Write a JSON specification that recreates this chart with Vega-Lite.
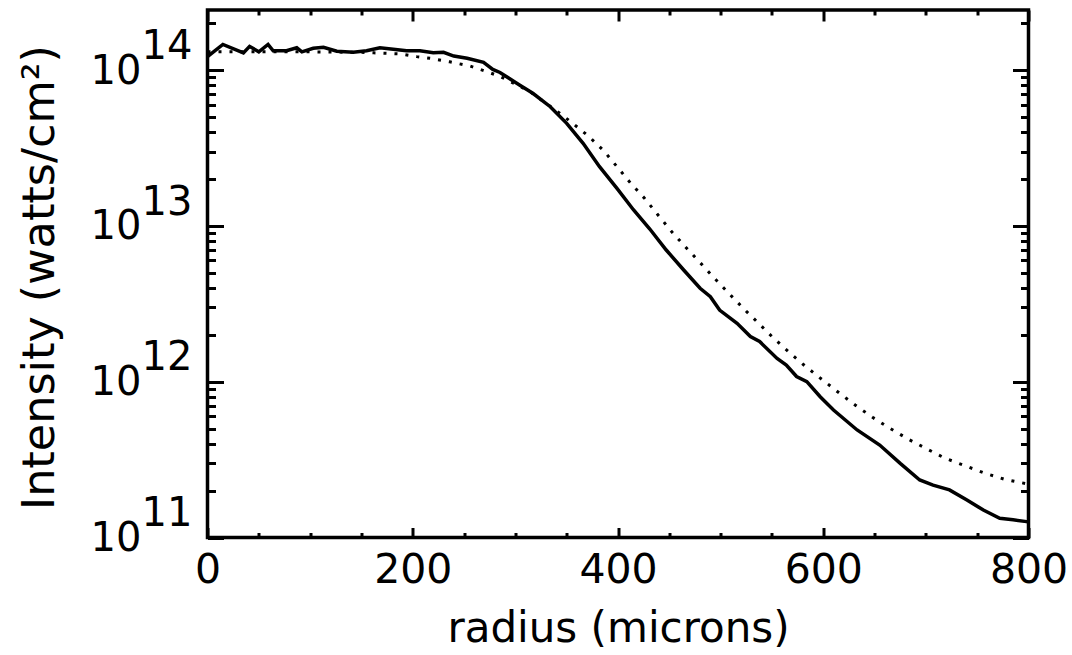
{
  "$schema": "https://vega.github.io/schema/vega-lite/v6.json",
  "width": 821,
  "height": 527.5,
  "autosize": "none",
  "padding": {"left": 207.5, "top": 10, "right": 43.5, "bottom": 117.5},
  "background": "white",
  "config": {
    "view": {"stroke": "black", "strokeWidth": 3.5},
    "axis": {
      "grid": false,
      "domain": false,
      "tickColor": "black",
      "tickWidth": 3,
      "labelColor": "black",
      "titleColor": "black",
      "labelFont": "DejaVu Sans",
      "titleFont": "DejaVu Sans",
      "titleFontWeight": "normal",
      "labelFlush": false,
      "labelOverlap": false,
      "labelBound": false
    }
  },
  "datasets": {
    "measured": [
      {"r": 0, "I": 1.22e14}, {"r": 15, "I": 1.46e14}, {"r": 35, "I": 1.29e14}, {"r": 41, "I": 1.42e14},
      {"r": 50, "I": 1.31e14}, {"r": 59, "I": 1.46e14}, {"r": 64, "I": 1.33e14}, {"r": 77, "I": 1.33e14},
      {"r": 87, "I": 1.39e14}, {"r": 92, "I": 1.31e14}, {"r": 103, "I": 1.38e14}, {"r": 113, "I": 1.40e14},
      {"r": 126, "I": 1.32e14}, {"r": 142, "I": 1.30e14}, {"r": 155, "I": 1.33e14}, {"r": 168, "I": 1.39e14},
      {"r": 181, "I": 1.36e14}, {"r": 194, "I": 1.33e14}, {"r": 207, "I": 1.33e14}, {"r": 220, "I": 1.29e14},
      {"r": 230, "I": 1.30e14}, {"r": 240, "I": 1.23e14}, {"r": 253, "I": 1.19e14}, {"r": 269, "I": 1.12e14},
      {"r": 278, "I": 1.01e14}, {"r": 285, "I": 9.65e13}, {"r": 304, "I": 8.03e13}, {"r": 317, "I": 7.10e13},
      {"r": 334, "I": 5.82e13}, {"r": 350, "I": 4.55e13}, {"r": 366, "I": 3.39e13}, {"r": 382, "I": 2.40e13},
      {"r": 399, "I": 1.74e13}, {"r": 415, "I": 1.27e13}, {"r": 431, "I": 9.55e12}, {"r": 447, "I": 7.00e12},
      {"r": 464, "I": 5.21e12}, {"r": 480, "I": 3.98e12}, {"r": 490, "I": 3.51e12}, {"r": 499, "I": 2.88e12},
      {"r": 516, "I": 2.37e12}, {"r": 529, "I": 1.95e12}, {"r": 538, "I": 1.81e12}, {"r": 555, "I": 1.41e12},
      {"r": 564, "I": 1.28e12}, {"r": 574, "I": 1.08e12}, {"r": 584, "I": 1.00e12}, {"r": 597, "I": 8.01e11},
      {"r": 610, "I": 6.58e11}, {"r": 633, "I": 4.90e11}, {"r": 655, "I": 3.92e11}, {"r": 675, "I": 2.99e11},
      {"r": 694, "I": 2.34e11}, {"r": 707, "I": 2.17e11}, {"r": 723, "I": 2.02e11}, {"r": 740, "I": 1.74e11},
      {"r": 756, "I": 1.50e11}, {"r": 772, "I": 1.33e11}, {"r": 785, "I": 1.30e11}, {"r": 800, "I": 1.26e11}
    ],
    "model": [
      {"r": 0, "I": 1.31e14}, {"r": 50, "I": 1.31e14}, {"r": 100, "I": 1.31e14}, {"r": 150, "I": 1.30e14},
      {"r": 162, "I": 1.29e14}, {"r": 175, "I": 1.28e14}, {"r": 188, "I": 1.27e14}, {"r": 204, "I": 1.22e14},
      {"r": 217, "I": 1.19e14}, {"r": 236, "I": 1.13e14}, {"r": 256, "I": 1.06e14}, {"r": 275, "I": 9.62e13},
      {"r": 285, "I": 9.10e13}, {"r": 305, "I": 7.83e13}, {"r": 314, "I": 7.27e13}, {"r": 339, "I": 5.55e13},
      {"r": 355, "I": 4.60e13}, {"r": 371, "I": 3.78e13}, {"r": 386, "I": 3.04e13}, {"r": 399, "I": 2.40e13},
      {"r": 412, "I": 1.89e13}, {"r": 426, "I": 1.50e13}, {"r": 439, "I": 1.175e13}, {"r": 452, "I": 9.23e12},
      {"r": 466, "I": 7.29e12}, {"r": 480, "I": 5.81e12}, {"r": 494, "I": 4.61e12}, {"r": 508, "I": 3.69e12},
      {"r": 522, "I": 2.96e12}, {"r": 537, "I": 2.37e12}, {"r": 551, "I": 1.92e12}, {"r": 567, "I": 1.54e12},
      {"r": 583, "I": 1.25e12}, {"r": 599, "I": 1.03e12}, {"r": 615, "I": 8.52e11}, {"r": 631, "I": 7.09e11},
      {"r": 648, "I": 5.91e11}, {"r": 665, "I": 5.02e11}, {"r": 683, "I": 4.27e11}, {"r": 701, "I": 3.70e11},
      {"r": 719, "I": 3.22e11}, {"r": 738, "I": 2.89e11}, {"r": 758, "I": 2.58e11}, {"r": 777, "I": 2.36e11},
      {"r": 800, "I": 2.20e11}
    ]
  },
  "resolve": {"axis": {"x": "independent", "y": "independent"}},
  "layer": [
    {
      "data": {"name": "measured"},
      "mark": {"type": "line", "color": "black", "strokeWidth": 3.5, "clip": true},
      "encoding": {
        "x": {"field": "r", "type": "quantitative",
              "scale": {"domain": [0, 800], "nice": false, "zero": false},
              "axis": {"orient": "bottom", "values": [0, 200, 400, 600, 800], "labels": false, "tickSize": -10, "title": null}},
        "y": {"field": "I", "type": "quantitative",
              "scale": {"type": "log", "domain": [1e11, 2.43e14], "nice": false},
              "axis": {"orient": "left", "values": [1e11, 1e12, 1e13, 1e14], "labels": false, "tickSize": -16, "title": null}}
      }
    },
    {
      "data": {"name": "model"},
      "mark": {"type": "line", "color": "black", "strokeWidth": 3, "strokeDash": [3, 8], "clip": true},
      "encoding": {
        "x": {"field": "r", "type": "quantitative",
              "axis": {"orient": "bottom", "values": [50, 100, 150, 250, 300, 350, 450, 500, 550, 650, 700, 750], "labels": false, "tickSize": -5, "title": null}},
        "y": {"field": "I", "type": "quantitative",
              "axis": {"orient": "left", "values": [2e11, 3e11, 4e11, 5e11, 6e11, 7e11, 8e11, 9e11, 2e12, 3e12, 4e12, 5e12, 6e12, 7e12, 8e12, 9e12, 2e13, 3e13, 4e13, 5e13, 6e13, 7e13, 8e13, 9e13, 2e14], "labels": false, "tickSize": -8, "title": null}}
      }
    },
    {
      "data": {"name": "model"},
      "mark": {"type": "line", "opacity": 0},
      "encoding": {
        "x": {"field": "r", "type": "quantitative",
              "axis": {"orient": "bottom", "values": [0, 200, 400, 600, 800], "ticks": false, "labelPadding": 44.5, "labelBaseline": "alphabetic", "labelFontSize": 41, "labelFlush": false,
                       "title": "radius (microns)", "titleFontSize": 42, "titleBaseline": "alphabetic", "titleX": 410.5, "titleY": 104.2}},
        "y": {"field": "I", "type": "quantitative",
              "axis": {"orient": "left", "values": [1e11, 1e12, 1e13, 1e14], "ticks": false, "labelExpr": "'10'", "labelPadding": 66.5, "labelBaseline": "alphabetic", "labelOffset": 13, "labelFontSize": 40, "labelFlush": false,
                       "title": "Intensity (watts/cm²)", "titleFontSize": 44.5, "titleAngle": -90, "titleBaseline": "alphabetic", "titleX": -154, "titleY": 267}}
      }
    },
    {
      "data": {"name": "model"},
      "mark": {"type": "line", "opacity": 0},
      "encoding": {
        "x": {"field": "r", "type": "quantitative",
              "axis": {"orient": "top", "values": [0, 200, 400, 600, 800], "labels": false, "tickSize": -11, "title": null}},
        "y": {"field": "I", "type": "quantitative",
              "axis": {"orient": "left", "values": [1e11, 1e12, 1e13, 1e14], "ticks": false, "labelExpr": "'' + round(log(datum.value) / LN10)", "labelPadding": 15.5, "labelBaseline": "alphabetic", "labelOffset": -11.8, "labelFontSize": 40, "labelFlush": false, "title": null}}
      }
    },
    {
      "data": {"name": "model"},
      "mark": {"type": "line", "opacity": 0},
      "encoding": {
        "x": {"field": "r", "type": "quantitative",
              "axis": {"orient": "top", "values": [50, 100, 150, 250, 300, 350, 450, 500, 550, 650, 700, 750], "labels": false, "tickSize": -5, "title": null}},
        "y": {"field": "I", "type": "quantitative",
              "axis": {"orient": "right", "values": [1e11, 1e12, 1e13, 1e14], "labels": false, "tickSize": -16, "title": null}}
      }
    },
    {
      "data": {"name": "model"},
      "mark": {"type": "line", "opacity": 0},
      "encoding": {
        "x": {"field": "r", "type": "quantitative", "axis": null},
        "y": {"field": "I", "type": "quantitative",
              "axis": {"orient": "right", "values": [2e11, 3e11, 4e11, 5e11, 6e11, 7e11, 8e11, 9e11, 2e12, 3e12, 4e12, 5e12, 6e12, 7e12, 8e12, 9e12, 2e13, 3e13, 4e13, 5e13, 6e13, 7e13, 8e13, 9e13, 2e14], "labels": false, "tickSize": -8, "title": null}}
      }
    }
  ]
}
